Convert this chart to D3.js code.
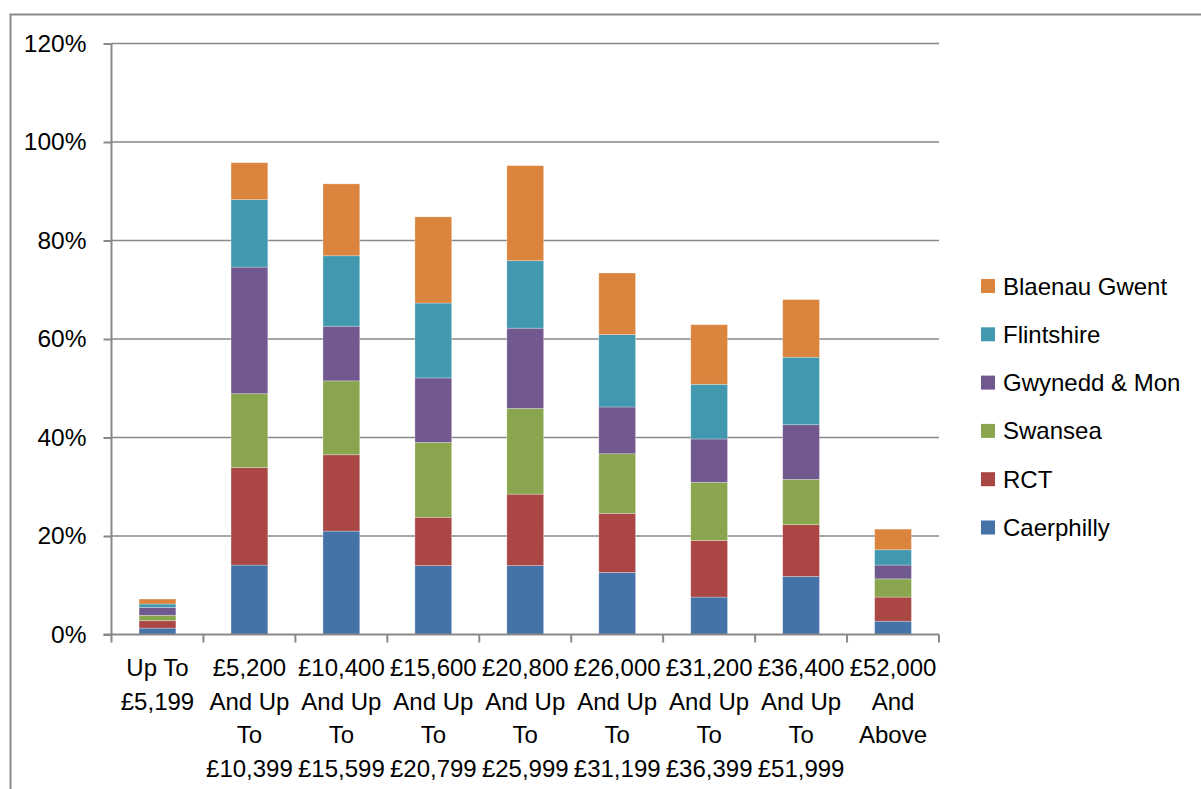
<!DOCTYPE html>
<html>
<head>
<meta charset="utf-8">
<script src="https://cdn.jsdelivr.net/npm/d3@7/dist/d3.min.js"></script>
<style>
  html, body { margin: 0; padding: 0; background: #fff; }
  svg { display: block; font-family: "Liberation Sans", Arial, sans-serif; }
</style>
</head>
<body>
<svg id="chart" width="1201" height="789"></svg>
<script>
// Income bands (x categories), each drawn on several lines
const categories = [
  ["Up To", "£5,199"],
  ["£5,200", "And Up", "To", "£10,399"],
  ["£10,400", "And Up", "To", "£15,599"],
  ["£15,600", "And Up", "To", "£20,799"],
  ["£20,800", "And Up", "To", "£25,999"],
  ["£26,000", "And Up", "To", "£31,199"],
  ["£31,200", "And Up", "To", "£36,399"],
  ["£36,400", "And Up", "To", "£51,999"],
  ["£52,000", "And", "Above"]
];

// Series, stacked bottom to top (percent)
const seriesNames = ["Caerphilly", "RCT", "Swansea", "Gwynedd & Mon", "Flintshire", "Blaenau Gwent"];
const caerphilly   = [1.3, 14.1, 21.0, 14.0, 14.0, 12.6,  7.6, 11.8, 2.7];
const rct          = [1.5, 19.8, 15.5,  9.8, 14.5, 12.0, 11.5, 10.5, 4.9];
const swansea      = [1.1, 15.0, 15.0, 15.2, 17.4, 12.1, 11.8,  9.2, 3.7];
const gwyneddMon   = [1.6, 25.7, 11.1, 13.1, 16.3,  9.5,  8.8, 11.1, 2.8];
const flintshire   = [0.7, 13.7, 14.3, 15.2, 13.7, 14.7, 11.1, 13.7, 3.1];
const blaenauGwent = [1.0,  7.5, 14.6, 17.5, 19.3, 12.5, 12.1, 11.7, 4.2];
const seriesValues = [caerphilly, rct, swansea, gwyneddMon, flintshire, blaenauGwent];
const colors = ["#4572A7", "#AA4643", "#89A54E", "#71588F", "#4198AF", "#DB843D"];

const yTicks = [0, 20, 40, 60, 80, 100, 120];

const svg = d3.select("#chart");
const grey = "#898989";

// Chart area frame (left and top edges visible)
svg.append("path")
  .attr("d", "M10.5,789 L10.5,14.5 L1201,14.5")
  .attr("fill", "none").attr("stroke", grey).attr("stroke-width", 2);

const plot = { left: 111.5, right: 939, top: 43.5, bottom: 634.5 };

const x = d3.scaleBand()
  .domain(d3.range(categories.length))
  .range([plot.left, plot.right])
  .paddingInner(0.6).paddingOuter(0.3);

const y = d3.scaleLinear().domain([0, 120]).range([plot.bottom, plot.top]);

// Horizontal gridlines
svg.append("g").selectAll("line").data(yTicks.filter(d => d > 0)).join("line")
  .attr("x1", plot.left).attr("x2", plot.right)
  .attr("y1", d => y(d)).attr("y2", d => y(d))
  .attr("stroke", grey).attr("stroke-width", 1.5);

// Stacked bars
const rows = categories.map((c, i) => {
  const r = { i };
  seriesNames.forEach((s, k) => { r[s] = seriesValues[k][i]; });
  return r;
});
const stacked = d3.stack().keys(seriesNames)(rows);

svg.append("g").selectAll("g").data(stacked).join("g")
  .attr("fill", (d, k) => colors[k])
  .selectAll("rect").data(d => d).join("rect")
  .attr("x", d => x(d.data.i))
  .attr("width", x.bandwidth())
  .attr("y", d => y(d[1]))
  .attr("height", d => y(d[0]) - y(d[1]))
  .attr("stroke", "rgba(255,255,255,0.35)").attr("stroke-width", 0.8);

// Y axis
const yAxis = d3.axisLeft(y).tickValues(yTicks).tickFormat(d => d + "%").tickSize(8).tickPadding(17);
const gy = svg.append("g").attr("transform", `translate(${plot.left},0)`).call(yAxis);
gy.select(".domain").attr("stroke", grey).attr("stroke-width", 2).attr("d", `M0,${plot.top}V${plot.bottom}`);
gy.selectAll(".tick line").attr("stroke", grey).attr("stroke-width", 2);
gy.selectAll(".tick text").attr("font-size", 24.5).attr("fill", "#000")
  .attr("font-family", "'Liberation Sans', Arial, sans-serif");

// X axis: ticks at category boundaries
const bounds = d3.range(categories.length + 1).map(i => plot.left + i * (plot.right - plot.left) / categories.length);
svg.append("line")
  .attr("x1", plot.left - 8).attr("x2", plot.right)
  .attr("y1", plot.bottom).attr("y2", plot.bottom)
  .attr("stroke", grey).attr("stroke-width", 2);
svg.append("g").selectAll("line").data(bounds).join("line")
  .attr("x1", d => d).attr("x2", d => d)
  .attr("y1", plot.bottom).attr("y2", plot.bottom + 8)
  .attr("stroke", grey).attr("stroke-width", 2);

// Multi-line category labels
const labels = svg.append("g").selectAll("text").data(categories).join("text")
  .attr("text-anchor", "middle")
  .attr("font-size", 24)
  .attr("fill", "#000")
  .attr("transform", (d, i) => `translate(${x(i) + x.bandwidth() / 2},676)`);
labels.selectAll("tspan").data(d => d).join("tspan")
  .attr("x", 0).attr("y", (d, j) => j * 33.7)
  .text(d => d);

// Legend (top entry is the top of the stack)
const legendOrder = seriesNames.map((s, k) => ({ s, c: colors[k] })).reverse();
const lg = svg.append("g").selectAll("g").data(legendOrder).join("g")
  .attr("transform", (d, i) => `translate(981,${286 + i * 48.3})`);
lg.append("rect").attr("x", 0).attr("y", -7).attr("width", 14).attr("height", 14).attr("fill", d => d.c);
lg.append("text").attr("x", 22).attr("y", 8.5).attr("font-size", 24).attr("fill", "#000").text(d => d.s);
</script>
</body>
</html>
